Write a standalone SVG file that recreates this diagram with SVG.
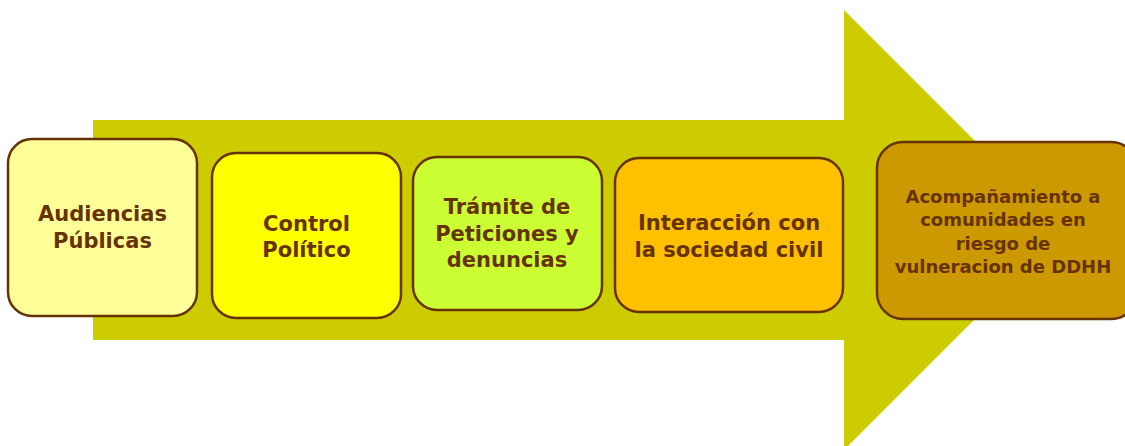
<svg xmlns="http://www.w3.org/2000/svg" width="1125" height="446" viewBox="0 0 1125 446">
<style>
.box{stroke:#663300;stroke-width:2.5}
.t{font-family:"DejaVu Sans","Liberation Sans",sans-serif;font-weight:bold;fill:#663300;text-anchor:middle;font-size:21px}
.s{font-size:18px}
</style>
<rect width="1125" height="446" fill="#ffffff"/>
<g id="arrow">
<polygon points="93,120 844,120 844,10 1064,230 844,450 844,340 93,340" fill="#CCCC00"/>
</g>
<g id="n1">
<rect class="box" x="8" y="139" width="189" height="177" rx="24" fill="#FFFF99"/>
<text class="t" x="102.5" y="221">Audiencias</text>
<text class="t" x="102.5" y="248">Públicas</text>
</g>
<g id="n2">
<rect class="box" x="212" y="153" width="189" height="165" rx="24" fill="#FFFF00"/>
<text class="t" x="306.5" y="231">Control</text>
<text class="t" x="306.5" y="257">Político</text>
</g>
<g id="n3">
<rect class="box" x="413" y="157" width="189" height="153" rx="24" fill="#CCFF33"/>
<text class="t" x="507" y="214">Trámite de</text>
<text class="t" x="507" y="241">Peticiones y</text>
<text class="t" x="507" y="267">denuncias</text>
</g>
<g id="n4">
<rect class="box" x="615" y="158" width="228" height="154" rx="24" fill="#FFC000"/>
<text class="t" x="729" y="230">Interacción con</text>
<text class="t" x="729" y="257">la sociedad civil</text>
</g>
<g id="n5">
<rect class="box" x="877" y="142" width="260" height="177" rx="26" fill="#CC9900"/>
<text class="t s" x="1003" y="203">Acompañamiento a</text>
<text class="t s" x="1003" y="226">comunidades en</text>
<text class="t s" x="1003" y="250">riesgo de</text>
<text class="t s" x="1003" y="273">vulneracion de DDHH</text>
</g>
<g id="connectors"></g>
</svg>
